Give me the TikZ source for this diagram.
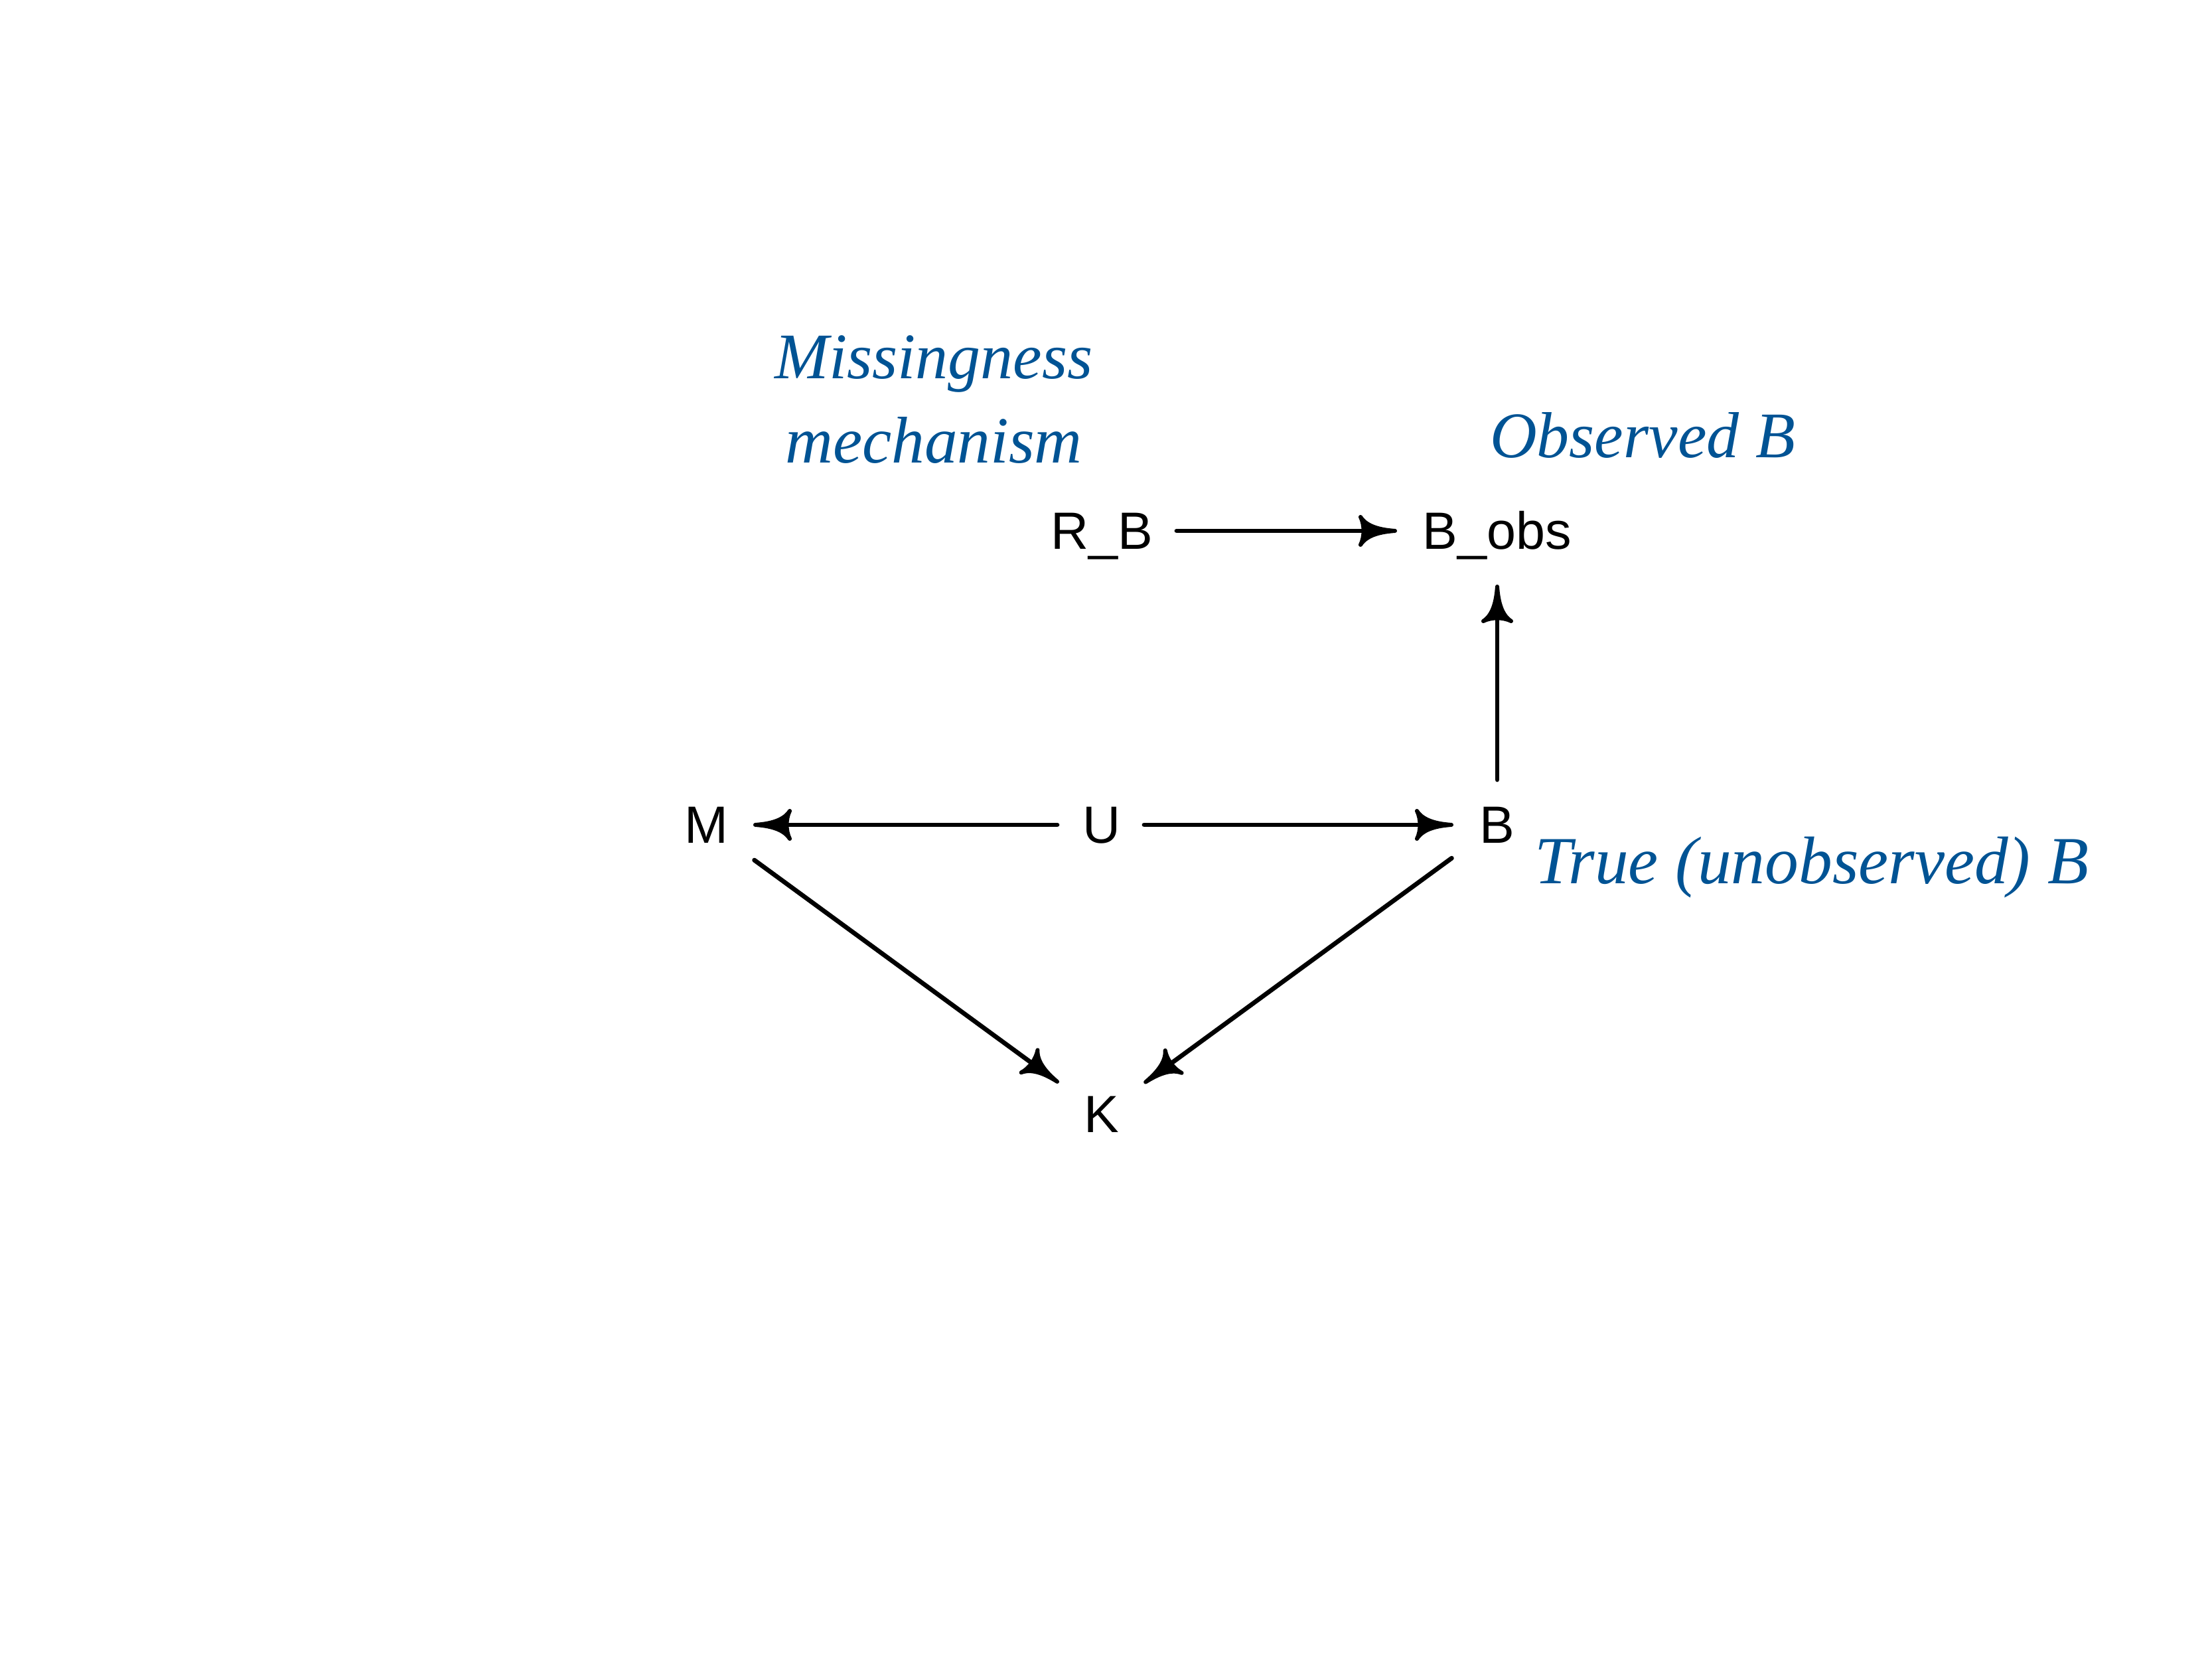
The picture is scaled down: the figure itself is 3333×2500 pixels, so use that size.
\documentclass[tikz,border=0pt]{standalone}
\usepackage{fontspec}
\newfontfamily\labfont{Liberation Sans}
\newfontfamily\annfont{Liberation Serif}
\usetikzlibrary{arrows.meta}
\definecolor{annblue}{RGB}{0,83,148}

\pgfdeclarearrow{
  name = Curvy,
  setup code = {
    \pgfarrowssettipend{0.3pt}
    \pgfarrowssetlineend{-4.0pt}
    \pgfarrowssetbackend{-5.5pt}
    \pgfarrowshullpoint{0.3pt}{0pt}
    \pgfarrowshullpoint{-5.5pt}{2.4pt}
    \pgfarrowshullpoint{-5.5pt}{-2.4pt}
  },
  drawing code = {
    \pgfsetlinewidth{0.6pt}
    \pgfsetroundjoin
    \pgfpathmoveto{\pgfpoint{0pt}{0pt}}
    \pgfpathcurveto{\pgfpoint{-2.0pt}{0.15pt}}{\pgfpoint{-4.2pt}{0.55pt}}{\pgfpoint{-5.2pt}{2.1pt}}
    \pgfpathcurveto{\pgfpoint{-4.6pt}{0.9pt}}{\pgfpoint{-4.6pt}{-0.9pt}}{\pgfpoint{-5.2pt}{-2.1pt}}
    \pgfpathcurveto{\pgfpoint{-4.2pt}{-0.55pt}}{\pgfpoint{-2.0pt}{-0.15pt}}{\pgfpoint{0pt}{0pt}}
    \pgfpathclose
    \pgfusepathqfillstroke
  },
}

\begin{document}
\begin{tikzpicture}[x=0.1pt,y=-0.1pt,
  lbl/.style={font=\labfont\fontsize{7.9pt}{9pt}\selectfont, inner sep=0pt, text height=5.6pt, text depth=0pt},
  ann/.style={font=\annfont\itshape\fontsize{9.8pt}{12pt}\selectfont, text=annblue, inner sep=0pt, anchor=base},
  edge/.style={line width=0.68pt, line cap=round, -{Curvy}},
]
\useasboundingbox (0,0) rectangle (3333,2500);

\node[lbl] (rb)   at (1660,800)  {R\_B};
\node[lbl] (bobs) at (2256,800)  {B\_obs};
\node[lbl] (m)    at (1064,1243) {M};
\node[lbl] (u)    at (1660,1243) {U};
\node[lbl] (b)    at (2256,1243) {B};
\node[lbl] (k)    at (1660,1679) {K};

\draw[edge, shorten <=11.3pt, shorten >=15.1pt] (rb.center) -- (bobs.center);
\draw[edge, shorten <=6.8pt, shorten >=8.1pt] (b.center) -- (bobs.center);
\draw[edge, shorten <=6.7pt, shorten >=7.1pt] (u.center) -- (m.center);
\draw[edge, shorten <=6.4pt, shorten >=6.6pt] (u.center) -- (b.center);
\draw[edge, shorten <=9.0pt, shorten >=8.0pt] (m.center) -- (k.center);
\draw[edge, shorten <=8.5pt, shorten >=7.9pt] (b.center) -- (k.center);

\node[ann] (mis1)  at (1407,571)  {Missingness};
\node[ann, font=\annfont\itshape\fontsize{9.95pt}{12pt}\selectfont] (mis2)  at (1407,698)  {mechanism};
\node[ann] (obsl)  at (2475,690)  {Observed B};
\node[ann, font=\annfont\itshape\fontsize{10.15pt}{12pt}\selectfont] (truel) at (2730,1332) {True (unobserved) B};
\end{tikzpicture}
\end{document}
